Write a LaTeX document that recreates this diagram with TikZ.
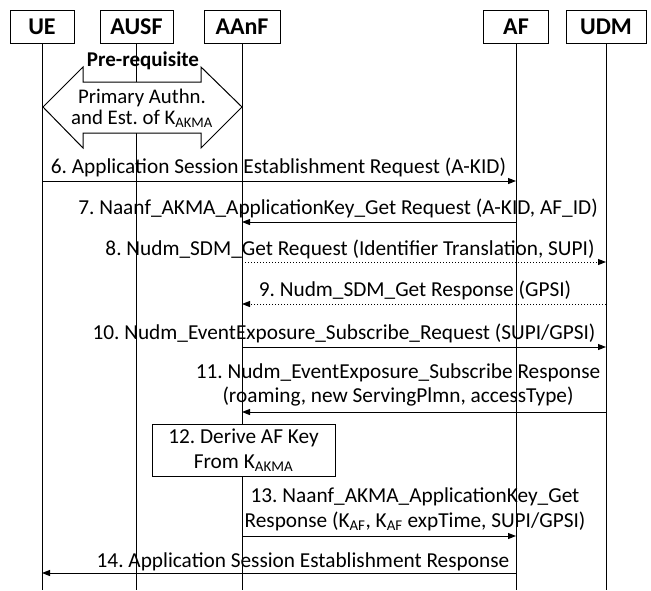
\documentclass[tikz,border=0pt]{standalone}
\usepackage{fontspec}
\setmainfont{Carlito}
\usetikzlibrary{arrows.meta}
\frenchspacing
\begin{document}
\begin{tikzpicture}[x=1pt,y=-1pt,
  hdr/.style={draw,line width=1pt,fill=white,minimum height=33pt,inner sep=0pt,font=\fontsize{24}{28}\selectfont\bfseries},
  life/.style={line width=1pt},
  msg/.style={line width=1pt,-{Triangle[length=8pt,width=6pt]}},
  dmsg/.style={msg,dotted},
  lbl/.style={font=\fontsize{21.3}{24.5}\selectfont,inner sep=0pt,align=center},
  stepbox/.style={draw,line width=1pt,fill=white,minimum width=183pt,minimum height=52pt,inner sep=0pt,align=center,font=\fontsize{21.3}{25}\selectfont},
  block/.style={draw,line width=1pt,fill=white,line join=miter}
]
\useasboundingbox (0,0) rectangle (651,590);
% headers
\node[hdr,minimum width=64pt] (ue) at (42,26.5) {UE};
\node[hdr,minimum width=73pt] (ausf) at (136.5,26.5) {AUSF};
\node[hdr,minimum width=76pt] (aanf) at (242,26.5) {AAnF};
\node[hdr,minimum width=65pt] (af) at (516,26.5) {AF};
\node[hdr,minimum width=80pt] (udm) at (606,26.5) {UDM};
% bottom coordinates
\coordinate (ueb) at (ue |- 0,590);
\coordinate (ausfb) at (ausf |- 0,590);
\coordinate (aanfb) at (aanf |- 0,590);
\coordinate (afb) at (af |- 0,590);
\coordinate (udmb) at (udm |- 0,590);
% lifelines
\draw[life] (ue) -- (ueb);
\draw[life] (ausf) -- (ausfb);
\draw[life] (aanf) -- (aanfb);
\draw[life] (af) -- (afb);
\draw[life] (udm) -- (udmb);
% pre-requisite block arrow
\node[lbl,font=\fontsize{21}{24.5}\selectfont\bfseries] (pre) at (143,61) {Pre-requisite};
\draw[block] (43,107) -- (83,67) -- (83,82) -- (201,82) -- (201,67) -- (242,107) -- (201,148) -- (201,133) -- (83,133) -- (83,148) -- cycle;
\node[lbl,font=\fontsize{20.8}{21}\selectfont] (prim) at (142,108) {Primary Authn.\\and Est. of K\textsubscript{AKMA}};
% messages
\node[lbl] (t6) at (278.5,167) {6. Application Session Establishment Request (A-KID)};
\draw[msg] (ue |- 0,181) -- (af |- 0,181);
\node[lbl] (t7) at (338,208) {7. Naanf\_AKMA\_ApplicationKey\_Get Request (A-KID, AF\_ID)};
\draw[msg] (af |- 0,222) -- (aanf |- 0,222);
\node[lbl] (t8) at (350,249) {8. Nudm\_SDM\_Get Request (Identifier Translation, SUPI)};
\draw[dmsg] (aanf |- 0,262) -- (udm |- 0,262);
\node[lbl] (t9) at (415,290) {9. Nudm\_SDM\_Get Response (GPSI)};
\draw[dmsg] (udm |- 0,304) -- (aanf |- 0,304);
\node[lbl] (t10) at (344,333) {10. Nudm\_EventExposure\_Subscribe\_Request (SUPI/GPSI)};
\draw[msg] (aanf |- 0,347) -- (udm |- 0,347);
\node[lbl] (t11) at (398,385) {11. Nudm\_EventExposure\_Subscribe Response\\(roaming, new ServingPlmn, accessType)};
\draw[msg] (udm |- 0,412) -- (aanf |- 0,412);
\node[stepbox] (s12) at (243.5,450) {12. Derive AF Key\\From K\textsubscript{AKMA}};
\node[lbl] (t13) at (415,509.5) {13. Naanf\_AKMA\_ApplicationKey\_Get\\Response (K\textsubscript{AF}, K\textsubscript{AF} expTime, SUPI/GPSI)};
\draw[msg] (aanf |- 0,536) -- (af |- 0,536);
\node[lbl] (t14) at (303,562) {14. Application Session Establishment Response};
\draw[msg] (af |- 0,573) -- (ue |- 0,573);
\end{tikzpicture}
\end{document}
